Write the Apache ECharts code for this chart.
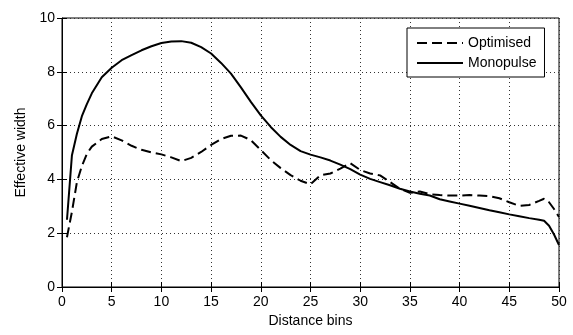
<!DOCTYPE html>
<html>
<head>
<meta charset="utf-8">
<script src="https://cdn.jsdelivr.net/npm/echarts@6/dist/echarts.min.js"></script>
<style>
html,body{margin:0;padding:0;background:#fff;}
#c{width:573px;height:335px;}
</style>
</head>
<body>
<div id="c"></div>
<script>
var distanceBins = [0.5,1,1.5,2,2.5,3,4,5,6,7,8,9,10,11,12,13,14,15,16,17,18,19,20,21,22,23,24,25,26,27,28,29,30,31,32,33,34,35,36,37,38,39,40,41,42,43,44,45,46,47,48,48.5,49,49.5,50];
var optimised = [1.85,2.8,3.9,4.5,4.95,5.22,5.5,5.6,5.45,5.25,5.1,5.0,4.93,4.82,4.68,4.8,5.02,5.28,5.5,5.62,5.63,5.46,5.09,4.72,4.42,4.16,3.95,3.82,4.15,4.22,4.4,4.6,4.35,4.22,4.15,3.9,3.65,3.5,3.55,3.45,3.42,3.4,3.4,3.42,3.4,3.38,3.3,3.15,3.02,3.05,3.2,3.28,3.15,2.9,2.6];
var monopulse = [2.5,4.9,5.7,6.35,6.8,7.2,7.8,8.15,8.43,8.62,8.8,8.95,9.07,9.13,9.14,9.08,8.92,8.68,8.33,7.93,7.42,6.88,6.38,5.95,5.58,5.28,5.05,4.92,4.82,4.7,4.55,4.38,4.18,4.02,3.9,3.78,3.65,3.55,3.47,3.4,3.26,3.18,3.1,3.02,2.94,2.85,2.78,2.7,2.63,2.56,2.5,2.46,2.28,1.95,1.56];
var seriesNames = ['Optimised','Monopulse'];
var xTicks = [0,5,10,15,20,25,30,35,40,45,50];
var yTicks = [0,2,4,6,8,10];

function pairs(xs, ys){ return xs.map(function(x,i){ return [x, ys[i]]; }); }

var font = 'Liberation Sans, Arial, sans-serif';
var gridLine = {show:true, lineStyle:{color:'#333', type:[1,3], width:1}};
var chart = echarts.init(document.getElementById('c'), null, {renderer:'canvas'});
chart.setOption({
  animation:false,
  backgroundColor:'#fff',
  grid:{left:62, right:14, top:18, bottom:48, show:true, borderColor:'#000', borderWidth:1, backgroundColor:'transparent'},
  legend:{
    orient:'vertical', left:407, top:28, width:120,
    backgroundColor:'#fff', borderColor:'#000', borderWidth:1,
    padding:[8,8,7,9], itemGap:6, itemWidth:46, itemHeight:14,
    itemStyle:{opacity:0},
    textStyle:{fontFamily:font, fontSize:14, color:'#000', padding:[0,0,0,0]},
    data:seriesNames
  },
  xAxis:[{
    type:'value', min:0, max:50, interval:5,
    name:'Distance bins', nameLocation:'middle', nameGap:25,
    nameTextStyle:{fontFamily:font, fontSize:14, color:'#000'},
    axisLine:{show:true, onZero:false, lineStyle:{color:'#000'}},
    axisTick:{show:true, inside:true, length:5, lineStyle:{color:'#000'}},
    axisLabel:{fontFamily:font, fontSize:14, color:'#000', margin:8,
      formatter:function(v){ return xTicks.indexOf(v)>=0 ? String(v) : ''; }},
    splitLine:gridLine
  },{
    type:'value', min:0, max:50, interval:5, position:'top',
    axisLine:{show:false}, axisTick:{show:true, inside:true, length:5, lineStyle:{color:'#000'}},
    axisLabel:{show:false}, splitLine:{show:false}
  }],
  yAxis:[{
    type:'value', min:0, max:10, interval:2,
    name:'Effective width', nameLocation:'middle', nameGap:33, nameRotate:90,
    nameTextStyle:{fontFamily:font, fontSize:14, color:'#000'},
    axisLine:{show:true, onZero:false, lineStyle:{color:'#000'}},
    axisTick:{show:true, inside:true, length:5, lineStyle:{color:'#000'}},
    axisLabel:{fontFamily:font, fontSize:14, color:'#000', margin:7,
      formatter:function(v){ return yTicks.indexOf(v)>=0 ? String(v) : ''; }},
    splitLine:gridLine
  },{
    type:'value', min:0, max:10, interval:2, position:'right',
    axisLine:{show:false}, axisTick:{show:true, inside:true, length:5, lineStyle:{color:'#000'}},
    axisLabel:{show:false}, splitLine:{show:false}
  }],
  series:[{
    name:seriesNames[0], type:'line', showSymbol:false, symbol:'none', smooth:false,
    data:pairs(distanceBins, optimised),
    lineStyle:{color:'#000', width:2, type:[10,5]}, itemStyle:{color:'#000'}, z:3
  },{
    name:seriesNames[1], type:'line', showSymbol:false, symbol:'none', smooth:false,
    data:pairs(distanceBins, monopulse),
    lineStyle:{color:'#000', width:2, type:'solid'}, itemStyle:{color:'#000'}, z:4
  }]
});
</script>
</body>
</html>
